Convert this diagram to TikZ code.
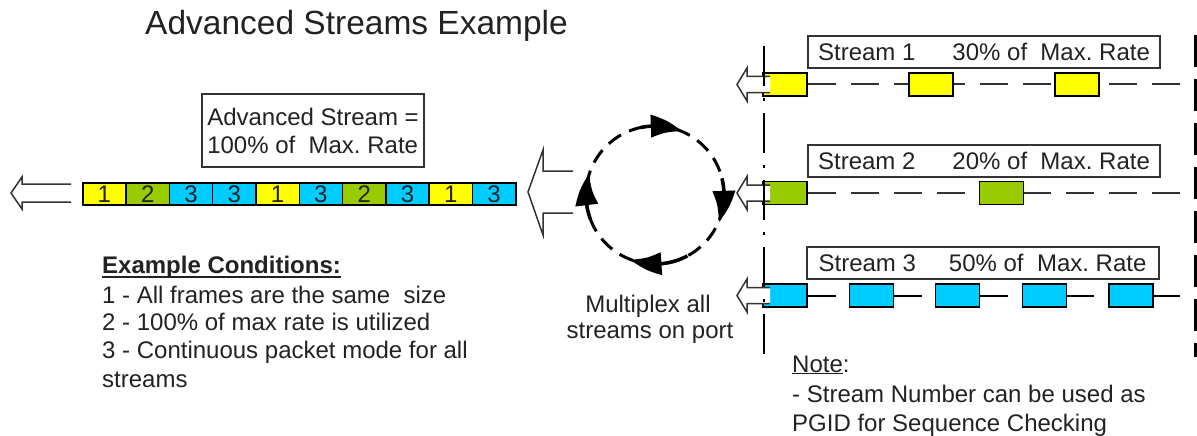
\documentclass[tikz,border=0pt]{standalone}
\usepackage{fontspec}
\setmainfont{Liberation Sans}
\usetikzlibrary{arrows.meta,bending}
\definecolor{fyel}{HTML}{FFFF00}
\definecolor{fgrn}{HTML}{99CC00}
\definecolor{fcyn}{HTML}{00CCFF}
\definecolor{ink}{HTML}{222222}
\definecolor{edge}{HTML}{333333}
\begin{document}
\begin{tikzpicture}[x=1pt,y=-1pt,
  txt/.style={inner sep=0pt, text=ink, font=\fontsize{24}{28}\selectfont},
  cell/.style={draw=black, line width=1.5pt, minimum width=43.3pt, minimum height=22pt, inner sep=0pt, anchor=north west, txt},
  pkt/.style={draw=black, line width=1.5pt, minimum width=44pt, minimum height=23pt, inner sep=0pt},
  lbl/.style={draw=edge, line width=2pt, minimum width=352pt, minimum height=32pt, inner sep=0pt, txt},
  hollow/.style={draw=edge, line width=1.5pt, fill=white, line join=miter},
  stline/.style={draw=edge, line width=2pt, dash pattern=on 28pt off 15pt},
  circ/.style={draw=black, line width=3pt, dash pattern=on 15pt off 9pt},
  circarrow/.style={draw=black, line width=3.5pt, -{Triangle[length=32pt,width=22pt,bend]}}
]
\useasboundingbox (0,0) rectangle (1197,436);

% title
\node[txt, anchor=base west, font=\fontsize{33.5}{40}\selectfont] (title) at (145,35) {Advanced Streams Example};

% advanced stream box
\node[draw=edge, line width=2pt, minimum width=222pt, minimum height=73pt, inner sep=0pt, anchor=north west, txt, align=left] (adv) at (201,93) {Advanced Stream =\\100\% of\ \ Max.\ Rate};

% frame bar
\foreach \n/\c [count=\i from 0] in {1/fyel,2/fgrn,3/fcyn,3/fcyn,1/fyel,3/fcyn,2/fgrn,3/fcyn,1/fyel,3/fcyn}
  \node[cell, fill=\c] (cell\i) at ({82+43.3*\i},182) {\n};

% left output arrow
\draw[hollow] (71,184) -- (22,184) -- (22,177) -- (11,193) -- (22,209) -- (22,202) -- (71,202);
% big merge arrow
\draw[hollow] (573,171) -- (543,171) -- (543,150) -- (528,192) -- (543,235) -- (543,213) -- (573,213);

% multiplex circle
\begin{scope}[shift={(655,195)}, yscale=-1]
  \draw[circ] (0,0) circle (69);
  \draw[circarrow] (102:69) arc (102:67:69);
  \draw[circarrow] (14:69) arc (14:-23:69);
  \draw[circarrow] (-62:69) arc (-62:-111:69);
  \draw[circarrow] (200:69) arc (200:162:69);
\end{scope}
\node[txt, anchor=base] (mux1) at (648,312) {Multiplex all};
\node[txt, anchor=base] (mux2) at (650,338) {streams on port};

% stream labels
\node[lbl] (lab1) at (984,52) {Stream 1\hspace{37pt}30\% of\ \ Max.\ Rate};
\node[lbl] (lab2) at (984,161) {Stream 2\hspace{37pt}20\% of\ \ Max.\ Rate};
\node[lbl] (lab3) at (982.5,262.5) {Stream 3\hspace{33pt}50\% of\ \ Max.\ Rate};

% stream 1
\coordinate (e1) at (1182,84.5);
\node[pkt, fill=fyel] (s1a) at (785,84.5) {};
\draw[stline] (s1a.east) -- (e1);
\node[pkt, fill=fyel] (s1b) at (931,84.5) {};
\node[pkt, fill=fyel] (s1c) at (1077,84.5) {};
% stream 2
\coordinate (e2) at (1182,193);
\node[pkt, fill=fgrn] (s2a) at (785,193) {};
\draw[stline] (s2a.east) -- (e2);
\node[pkt, fill=fgrn] (s2b) at (1001.5,193) {};
% stream 3
\coordinate (e3) at (1182,295.5);
\node[pkt, fill=fcyn] (s3a) at (785,295.5) {};
\draw[stline, draw=black] (s3a.east) -- (e3);
\node[pkt, fill=fcyn] (s3b) at (871.5,295.5) {};
\node[pkt, fill=fcyn] (s3c) at (957.5,295.5) {};
\node[pkt, fill=fcyn] (s3d) at (1044.5,295.5) {};
\node[pkt, fill=fcyn] (s3e) at (1131,295.5) {};

% small input arrows
\foreach \c in {84.5,193,295.5}
  \draw[hollow] (770,\c-8) -- (747,\c-8) -- (747,\c-16.5) -- (737,\c) -- (747,\c+16.5) -- (747,\c+8) -- (770,\c+8);

% port boundaries
\draw[black, line width=1.5pt, dash pattern=on 40pt off 12pt on 3pt off 12pt] (764,46) -- (764,355);
\draw[black, line width=3pt, dash pattern=on 32pt off 12pt] (1195,35) -- (1195,357);

% example conditions
\node[txt, anchor=base west, font=\bfseries\fontsize{24}{28}\selectfont] (c0) at (102,273) {Example Conditions:};
\draw[ink, line width=1.5pt] ([yshift=-4pt]c0.base west) -- ([yshift=-4pt]c0.base east);
\node[txt, anchor=base west] (c1) at (102,303) {1 - All frames are the same\ \ size};
\node[txt, anchor=base west] (c2) at (102,330) {2 - 100\% of max rate is utilized};
\node[txt, anchor=base west] (c3) at (102,358) {3 - Continuous packet mode for all};
\node[txt, anchor=base west] (c4) at (102,387) {streams};

% note
\node[txt, anchor=base west] (n0) at (792,372) {\underline{Note}:};
\node[txt, anchor=base west] (n1) at (792,402) {- Stream Number can be used as};
\node[txt, anchor=base west] (n2) at (792,431) {PGID for Sequence Checking};
\end{tikzpicture}
\end{document}
